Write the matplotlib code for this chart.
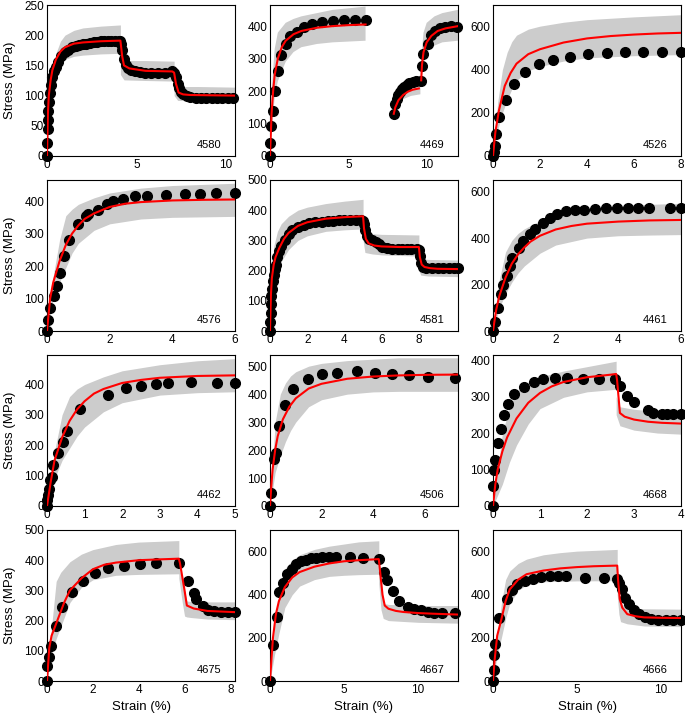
import numpy as np
import matplotlib
matplotlib.use('Agg')
import matplotlib.pyplot as plt

nan = np.nan

# --- 4580 ---
x_4580 = [0, 0.02, 0.04, 0.06, 0.08, 0.1, 0.15, 0.2, 0.3, 0.4, 0.5, 0.6, 0.8, 1.0, 1.2, 1.4, 1.6, 1.8,
          2.0, 2.2, 2.4, 2.6, 2.8, 3.0, 3.2, 3.4, 3.6, 3.8, 4.0, 4.1, 4.15, 4.2, 4.3, 4.4, 4.5, 4.7,
          4.9, 5.2, 5.5, 5.8, 6.2, 6.6, 7.0, 7.1, 7.2, 7.3, 7.4, 7.5, 7.6, 7.8, 8.0, 8.3, 8.6, 8.9,
          9.2, 9.5, 9.8, 10.1, 10.4]
y_4580 = [0, 22, 45, 60, 75, 90, 105, 118, 130, 140, 148, 155, 165, 172, 176, 180, 182, 184,
          185, 186, 187, 188, 189, 190, 190, 190, 190, 190, 190, 190, 185, 175, 160, 150, 145, 142,
          140, 139, 138, 138, 138, 138, 140, 138, 130, 120, 112, 106, 102, 99, 97, 96, 96, 96,
          96, 96, 96, 96, 96]
fit_x_4580 = [0, 0.05, 0.1, 0.2, 0.3, 0.5, 0.75, 1.0, 1.5, 2.0, 3.0, 4.1, 4.2, 4.3, 4.6, 5.5, 7.0,
              7.1, 7.2, 7.35, 7.6, 8.0, 10.5]
fit_y_4580 = [0, 70, 100, 125, 142, 160, 173, 180, 186, 188, 190, 191, 165, 150, 145, 141, 140,
              138, 120, 105, 102, 101, 100]
band_x_4580 = [0, 0.1, 0.2, 0.3, 0.5, 0.75, 1.0, 1.5, 2.0, 3.0, 4.1, 4.1, 4.3, 5.5, 7.1, 7.1, 7.3, 8.5, 10.5]
band_lo_4580 = [0, 40, 70, 95, 125, 150, 160, 165, 167, 169, 170, 135, 126, 125, 124, 100, 92, 91, 90]
band_hi_4580 = [0, 60, 110, 140, 170, 190, 200, 208, 212, 215, 217, 160, 158, 158, 157, 118, 115, 115, 114]

# --- 4469 ---
x_4469 = [0, 0.0, 0.08, 0.2, 0.3, 0.53, 0.7, 1.0, 1.3, 1.7, 2.2, 2.7, 3.35, 4.0, 4.7, 5.4, 6.1,
          7.9, 8.0, 8.1, 8.2, 8.3, 8.43, 8.58, 8.73, 8.9, 9.1, 9.3, 9.64,
          9.68, 9.79, 10.1, 10.27, 10.55, 10.85, 11.2, 11.55, 11.93]
y_4469 = [0, 39, 92, 140, 200, 261, 310, 344, 369, 381, 398, 406, 413, 416, 418, 418, 420,
          130, 159, 175, 187, 197, 207, 214, 220, 225, 229, 230, 230,
          276, 313, 346, 372, 385, 393, 398, 400, 398]
fit_x_4469 = [0, 0.1, 0.2, 0.3, 0.5, 0.75, 1.0, 1.5, 2.0, 3.0, 4.0, 5.0, 6.1, nan,
              7.9, 8.0, 8.2, 8.5, 8.8, 9.1, 9.5, nan,
              9.65, 9.7, 9.8, 10.0, 10.3, 10.7, 11.2, 12.0]
fit_y_4469 = [0, 130, 200, 250, 300, 335, 355, 375, 385, 395, 400, 403, 405, nan,
              130, 150, 172, 188, 198, 204, 208, nan,
              233, 280, 320, 350, 370, 385, 393, 400]
band_x_4469 = [0, 0.1, 0.3, 0.5, 1.0, 1.5, 2.0, 3.0, 4.0, 6.1, nan,
               7.9, 8.2, 8.5, 9.0, 9.6, nan,
               9.65, 9.8, 10.0, 10.5, 11.0, 12.0]
band_lo_4469 = [0, 80, 180, 230, 290, 320, 335, 345, 350, 355, nan,
                125, 160, 175, 185, 190, nan,
                230, 280, 320, 340, 350, 355]
band_hi_4469 = [0, 200, 330, 380, 410, 422, 430, 440, 450, 460, nan,
                140, 200, 222, 238, 248, nan,
                300, 380, 410, 430, 440, 450]

# --- 4526 ---
x_4526 = [0, 0.03, 0.07, 0.14, 0.26, 0.54, 0.9, 1.35, 1.95, 2.56, 3.27, 4.05, 4.85, 5.62, 6.4, 7.18, 7.99]
y_4526 = [0, 17, 48, 103, 180, 261, 333, 390, 426, 445, 460, 471, 476, 481, 481, 481, 481]
fit_x_4526 = [0, 0.1, 0.25, 0.5, 0.75, 1.0, 1.5, 2, 3, 4, 5, 6, 7, 8]
fit_y_4526 = [0, 110, 210, 325, 385, 428, 472, 495, 526, 545, 556, 563, 568, 571]
band_x_4526 = [0, 0.2, 0.4, 0.6, 0.8, 1.0, 1.5, 2, 3, 4, 6, 8]
band_lo_4526 = [0, 120, 200, 260, 310, 350, 395, 415, 440, 455, 465, 470]
band_hi_4526 = [0, 250, 400, 480, 530, 560, 588, 602, 620, 632, 645, 655]

# --- 4576 ---
x_4576 = [0, 0.02, 0.1, 0.21, 0.32, 0.43, 0.53, 0.71, 0.99, 1.23, 1.31, 1.62, 1.92, 2.11, 2.42,
          2.81, 3.2, 3.8, 4.39, 4.88, 5.4, 6.0]
y_4576 = [0, 34, 72, 108, 139, 180, 232, 280, 328, 354, 361, 374, 392, 400, 408,
          415, 417, 420, 421, 423, 424, 424]
fit_x_4576 = [0, 0.1, 0.2, 0.4, 0.6, 0.8, 1.0, 1.2, 1.5, 2, 2.5, 3, 4, 5, 6]
fit_y_4576 = [0, 100, 150, 215, 265, 300, 325, 345, 362, 382, 392, 397, 402, 404, 405]
band_x_4576 = [0, 0.2, 0.4, 0.6, 0.8, 1, 1.5, 2, 3, 4, 6]
band_lo_4576 = [0, 100, 150, 195, 240, 270, 310, 330, 345, 350, 353]
band_hi_4576 = [0, 170, 280, 355, 375, 390, 410, 425, 440, 448, 455]

# --- 4581 ---
x_4581 = [0, 0.02, 0.04, 0.06, 0.08, 0.12, 0.16, 0.2, 0.25, 0.3, 0.4, 0.5, 0.6, 0.8, 1.0, 1.2,
          1.5, 1.8, 2.1, 2.4, 2.8, 3.1, 3.4, 3.7, 4.0, 4.3, 4.6, 4.9, 5.0, 5.05, 5.1, 5.2, 5.33,
          5.5, 5.68, 5.85, 6.04, 6.3, 6.57, 6.85, 7.1, 7.35, 7.6, 7.9, 8.0, 8.05, 8.1, 8.2, 8.4,
          8.7, 9.0, 9.3, 9.6, 9.9, 10.1]
y_4581 = [0, 30, 60, 90, 115, 140, 165, 185, 205, 220, 245, 265, 280, 300, 320, 335,
          345, 352, 356, 360, 362, 364, 365, 366, 366, 366, 367, 368, 365, 355, 335, 315, 306,
          300, 295, 287, 279, 274, 271, 271, 271, 271, 271, 272, 268, 250, 225, 212, 210,
          210, 210, 210, 210, 210, 210]
fit_x_4581 = [0, 0.05, 0.1, 0.2, 0.3, 0.5, 0.75, 1.0, 1.5, 2, 3, 4, 5.0, 5.05, 5.15, 5.3, 5.6,
              6, 7, 8.0, 8.05, 8.15, 8.3, 8.6, 9, 10.1]
fit_y_4581 = [0, 120, 175, 220, 245, 275, 305, 325, 348, 360, 372, 377, 380, 340, 305, 290, 283,
              280, 278, 278, 245, 220, 212, 208, 206, 205]
band_x_4581 = [0, 0.2, 0.4, 0.6, 1.0, 1.5, 2, 3, 4, 5.0, 5.0, 5.1, 5.5, 6, 7, 8.0, 8.0, 8.1, 8.5, 10.1]
band_lo_4581 = [0, 150, 200, 230, 270, 300, 315, 330, 335, 338, 300, 260, 255, 252, 250, 248, 200, 185, 182, 180]
band_hi_4581 = [0, 280, 330, 355, 380, 400, 410, 422, 430, 436, 340, 325, 322, 320, 319, 318, 270, 240, 237, 235]

# --- 4461 ---
x_4461 = [0, 0.05, 0.16, 0.27, 0.32, 0.46, 0.53, 0.62, 0.82, 0.96, 1.17, 1.35, 1.6, 1.81, 2.03,
          2.32, 2.61, 2.91, 3.27, 3.62, 3.97, 4.3, 4.62, 4.98, 5.65, 6.0]
y_4461 = [0, 39, 101, 159, 198, 237, 280, 313, 356, 388, 417, 439, 465, 485, 504,
          515, 520, 520, 525, 528, 528, 528, 528, 530, 530, 530]
fit_x_4461 = [0, 0.1, 0.2, 0.4, 0.6, 0.8, 1.0, 1.2, 1.5, 2, 2.5, 3, 4, 5, 6]
fit_y_4461 = [0, 90, 150, 230, 290, 330, 360, 385, 410, 437, 452, 462, 471, 476, 478]
band_x_4461 = [0, 0.2, 0.4, 0.6, 0.8, 1.0, 1.5, 2, 3, 4, 5, 6]
band_lo_4461 = [0, 100, 160, 210, 250, 280, 335, 370, 400, 410, 413, 415]
band_hi_4461 = [0, 220, 340, 390, 420, 440, 475, 500, 525, 538, 545, 550]

# --- 4462 ---
x_4462 = [0, 0.01, 0.03, 0.05, 0.09, 0.13, 0.16, 0.3, 0.43, 0.52, 0.88, 1.61, 2.1, 2.51, 2.91,
          3.21, 3.82, 4.52, 5.0]
y_4462 = [0, 19, 35, 57, 85, 96, 134, 173, 211, 246, 319, 365, 387, 396, 402,
          404, 407, 404, 404]
fit_x_4462 = [0, 0.1, 0.2, 0.4, 0.6, 0.8, 1.0, 1.25, 1.5, 2, 2.5, 3, 4, 5]
fit_y_4462 = [0, 80, 150, 225, 280, 318, 345, 370, 385, 405, 415, 422, 428, 430]
band_x_4462 = [0, 0.2, 0.4, 0.6, 0.8, 1.0, 1.5, 2, 3, 4, 5]
band_lo_4462 = [0, 90, 150, 190, 230, 260, 310, 340, 365, 373, 376]
band_hi_4462 = [0, 180, 300, 360, 385, 400, 425, 445, 465, 478, 485]

# --- 4506 ---
x_4506 = [0, 0.03, 0.17, 0.22, 0.35, 0.58, 0.9, 1.46, 2.03, 2.59, 3.37, 4.06, 4.73, 5.38, 6.15, 7.18]
y_4506 = [0, 47, 167, 191, 286, 360, 419, 455, 471, 476, 481, 475, 473, 468, 463, 457]
fit_x_4506 = [0, 0.05, 0.1, 0.2, 0.3, 0.5, 0.75, 1.0, 1.5, 2, 3, 4, 5, 6, 7.3]
fit_y_4506 = [0, 70, 130, 200, 250, 310, 355, 385, 420, 437, 455, 463, 467, 469, 470]
band_x_4506 = [0, 0.2, 0.4, 0.6, 0.8, 1, 1.5, 2, 3, 4, 5, 7.3]
band_lo_4506 = [0, 120, 180, 230, 270, 300, 355, 380, 400, 408, 410, 410]
band_hi_4506 = [0, 300, 400, 440, 465, 480, 500, 510, 520, 525, 530, 530]

# --- 4668 ---
x_4668 = [0, 0, 0.02, 0.05, 0.11, 0.16, 0.23, 0.31, 0.45, 0.65, 0.87, 1.07, 1.32, 1.58, 1.92,
          2.25, 2.6, 2.71, 2.85, 3.0, 3.29, 3.41, 3.59, 3.71, 3.84, 4.0]
y_4668 = [0, 54, 100, 125, 174, 211, 249, 281, 308, 327, 340, 348, 350, 350, 348,
          348, 348, 329, 302, 286, 263, 256, 252, 252, 252, 251]
fit_x_4668 = [0, 0.05, 0.1, 0.2, 0.3, 0.5, 0.75, 1.0, 1.25, 1.5, 2, 2.5, 2.62, 2.64, 2.7, 2.8,
              3.0, 3.3, 3.6, 4]
fit_y_4668 = [0, 60, 100, 150, 188, 240, 283, 310, 328, 340, 353, 360, 362, 345, 255, 245,
              237, 231, 228, 226]
band_x_4668 = [0, 0.1, 0.2, 0.35, 0.5, 0.75, 1, 1.5, 2, 2.62, 2.62, 2.7, 3.0, 3.5, 4]
band_lo_4668 = [0, 30, 60, 120, 167, 225, 267, 298, 313, 320, 250, 220, 208, 200, 197]
band_hi_4668 = [0, 100, 200, 270, 313, 340, 354, 370, 382, 397, 300, 272, 265, 260, 258]

# --- 4675 ---
x_4675 = [0, 0.01, 0.09, 0.16, 0.41, 0.67, 1.09, 1.58, 2.11, 2.68, 3.37, 4.05, 4.75, 5.75,
          6.13, 6.39, 6.5, 6.8, 7.04, 7.3, 7.6, 7.9, 8.2]
y_4675 = [0, 49, 80, 115, 181, 245, 295, 332, 357, 374, 381, 388, 390, 390,
          330, 291, 271, 249, 236, 231, 229, 229, 229]
fit_x_4675 = [0, 0.1, 0.2, 0.5, 0.75, 1.0, 1.5, 2, 2.5, 3, 4, 5, 5.75, 5.8, 6.0, 6.1, 6.4, 7, 8.2]
fit_y_4675 = [0, 110, 150, 210, 260, 300, 340, 370, 385, 392, 400, 403, 405, 390, 300, 250,
              240, 232, 228]
band_x_4675 = [0, 0.2, 0.4, 0.6, 1.0, 1.5, 2, 3, 4, 5.75, 5.75, 5.9, 6.0, 6.1, 6.3, 7, 8.2]
band_lo_4675 = [0, 90, 140, 180, 260, 310, 335, 350, 353, 355, 340, 260, 215, 212, 210, 205, 203]
band_hi_4675 = [0, 180, 330, 360, 395, 420, 435, 452, 460, 465, 380, 330, 300, 265, 263, 262, 262]

# --- 4667 ---
x_4667 = [0, 0.18, 0.45, 0.6, 0.85, 1.12, 1.46, 1.79, 2.09, 2.42, 2.76, 3.09, 3.54, 3.99, 4.44,
          5.38, 6.28, 7.35, 7.69, 7.89, 8.3, 8.74, 9.3, 9.75, 10.2, 10.65, 11.1, 11.6, 12.5]
y_4667 = [0, 169, 297, 411, 454, 495, 520, 542, 554, 562, 569, 571, 574, 577, 577,
          577, 571, 566, 505, 466, 415, 372, 342, 334, 328, 320, 317, 317, 315]
fit_x_4667 = [0, 0.2, 0.4, 0.6, 1.0, 1.5, 2, 3, 4, 5, 6, 7.35, 7.45, 7.6, 7.75, 8, 8.5, 9, 10,
              11, 12.7]
fit_y_4667 = [0, 200, 310, 370, 435, 480, 505, 530, 545, 555, 560, 565, 500, 400, 350, 335,
              325, 320, 315, 312, 308]
band_x_4667 = [0, 0.3, 0.6, 1.0, 1.5, 2, 3, 4, 5, 6, 7.35, 7.35, 7.5, 7.65, 8, 10, 12.7]
band_lo_4667 = [0, 120, 220, 340, 400, 440, 470, 485, 490, 493, 495, 450, 330, 290, 280, 272, 268]
band_hi_4667 = [0, 250, 400, 520, 560, 585, 610, 625, 635, 645, 650, 520, 450, 360, 355, 350, 350]

# --- 4666 ---
x_4666 = [0, 0.04, 0.08, 0.14, 0.36, 0.83, 1.13, 1.45, 1.92, 2.38, 2.83, 3.37, 3.86, 4.36, 5.5,
          6.59, 7.39, 7.49, 7.68, 7.88, 8.12, 8.42, 8.71, 9.05, 9.41, 9.84, 10.3, 10.7, 11.19]
y_4666 = [0, 51, 122, 170, 291, 382, 424, 448, 464, 475, 481, 487, 485, 485, 479,
          476, 474, 456, 425, 386, 359, 329, 309, 297, 289, 284, 283, 283, 283]
fit_x_4666 = [0, 0.1, 0.25, 0.5, 0.75, 1, 1.5, 2, 3, 4, 5, 6, 7.4, 7.45, 7.55, 7.7, 8, 8.5, 9,
              10, 11.2]
fit_y_4666 = [0, 100, 210, 286, 370, 425, 470, 495, 512, 522, 528, 532, 535, 470, 380, 340,
              310, 300, 295, 293, 292]
band_x_4666 = [0, 0.25, 0.5, 0.75, 1.0, 1.5, 2, 3, 4, 5, 7.4, 7.4, 7.5, 7.6, 8, 9, 11.2]
band_lo_4666 = [0, 120, 200, 290, 360, 420, 445, 460, 462, 464, 465, 400, 310, 275, 265, 255, 252]
band_hi_4666 = [0, 200, 360, 470, 510, 545, 565, 585, 595, 602, 610, 500, 420, 360, 340, 335, 333]

ids = ['4580', '4469', '4526', '4576', '4581', '4461', '4462', '4506', '4668', '4675', '4667', '4666']
xlims = [10.5, 12.0, 8.0, 6.0, 10.1, 6.0, 5.0, 7.3, 4.0, 8.2, 12.7, 11.2]
ylims = [250, 465, 700, 465, 500, 650, 497, 540, 414, 500, 700, 700]
xticks = [[0, 5, 10], [0, 5, 10], [0, 2, 4, 6, 8], [0, 2, 4, 6], [0, 2, 4, 6, 8], [0, 2, 4, 6],
          [0, 1, 2, 3, 4, 5], [0, 2, 4, 6], [0, 1, 2, 3, 4], [0, 2, 4, 6, 8], [0, 5, 10], [0, 5, 10]]
yticks = [[0, 50, 100, 150, 200, 250], [0, 100, 200, 300, 400], [0, 200, 400, 600],
          [0, 100, 200, 300, 400], [0, 100, 200, 300, 400, 500], [0, 200, 400, 600],
          [0, 100, 200, 300, 400], [0, 100, 200, 300, 400, 500], [0, 100, 200, 300, 400],
          [0, 100, 200, 300, 400, 500], [0, 200, 400, 600], [0, 200, 400, 600]]

plt.rcParams['font.family'] = ['Liberation Sans', 'DejaVu Sans']

W, H = 685, 715
fig = plt.figure(figsize=(W / 100, H / 100), dpi=100)

lefts = [47, 270, 493]
tops = [5, 180, 355, 530]
aw, ah = 188, 151

g = globals()
for k, pid in enumerate(ids):
    r, c = divmod(k, 3)
    ax = fig.add_axes([lefts[c] / W, 1 - (tops[r] + ah) / H, aw / W, ah / H])
    bx = np.array(g['band_x_' + pid], dtype=float)
    ax.fill_between(bx, g['band_lo_' + pid], g['band_hi_' + pid], color='#cccccc', lw=0, zorder=1)
    ax.plot(g['x_' + pid], g['y_' + pid], 'o', color='black', ms=7, zorder=2, clip_on=False)
    ax.plot(g['fit_x_' + pid], g['fit_y_' + pid], color='#ff0000', lw=1.5, zorder=3)
    ax.set_xlim(0, xlims[k])
    ax.set_ylim(0, ylims[k])
    ax.set_xticks(xticks[k])
    ax.set_yticks(yticks[k])
    ax.tick_params(length=0, pad=2, labelsize=8.5)
    for s in ax.spines.values():
        s.set_linewidth(0.8)
    ax.text(0.93, 0.04, pid, transform=ax.transAxes, ha='right', va='bottom', fontsize=8)
    if c == 0:
        ax.set_ylabel('Stress (MPa)', fontsize=9.5, labelpad=6)
    if r == 3:
        ax.set_xlabel('Strain (%)', fontsize=9.5, labelpad=4)

fig.savefig('out.png', dpi=100)
